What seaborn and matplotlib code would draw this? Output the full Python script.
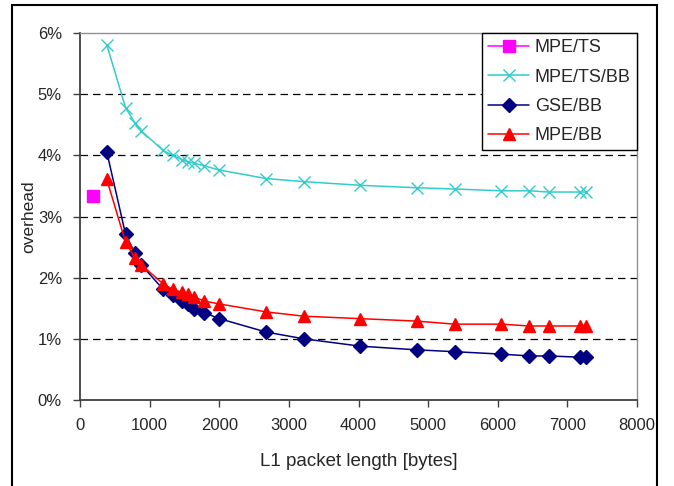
import matplotlib

matplotlib.use("Agg")

import matplotlib.pyplot as plt
import seaborn as sns
from matplotlib.patches import Rectangle
from matplotlib.ticker import FuncFormatter, MultipleLocator


# L1 packet lengths [bytes] (DVB-S2 short + normal frame payloads)
PACKET_LENGTH = [384, 654, 789, 879, 1194, 1329, 1464, 1554, 1644, 1779, 2001,
                 2676, 3216, 4026, 4836, 5380, 6051, 6456, 6730, 7184, 7274]

MPE_TS_X = [188]
MPE_TS = [3.34]
MPE_TS_BB = [5.81, 4.78, 4.53, 4.40, 4.08, 4.00, 3.93, 3.89, 3.87, 3.83, 3.76,
             3.62, 3.57, 3.51, 3.47, 3.45, 3.42, 3.42, 3.40, 3.40, 3.40]
GSE_BB = [4.06, 2.71, 2.40, 2.21, 1.81, 1.72, 1.62, 1.57, 1.49, 1.43, 1.33,
          1.11, 1.00, 0.88, 0.82, 0.79, 0.75, 0.72, 0.72, 0.70, 0.70]
MPE_BB = [3.61, 2.58, 2.32, 2.21, 1.90, 1.81, 1.76, 1.73, 1.68, 1.62, 1.57,
          1.44, 1.37, 1.33, 1.29, 1.24, 1.24, 1.21, 1.21, 1.21, 1.21]

SERIES = [
    ("MPE/TS", MPE_TS_X, MPE_TS, "#FF00FF", "s"),
    ("MPE/TS/BB", PACKET_LENGTH, MPE_TS_BB, "#33CCCC", "x"),
    ("GSE/BB", PACKET_LENGTH, GSE_BB, "#000080", "D"),
    ("MPE/BB", PACKET_LENGTH, MPE_BB, "#FF0000", "^"),
]


def main():
    sns.set_style("white")
    plt.rcParams["font.family"] = ["Liberation Sans", "DejaVu Sans"]

    fig = plt.figure(figsize=(6.74, 4.86), dpi=100)
    ax = fig.add_axes([80 / 674, 1 - 400 / 486, 557 / 674, 367 / 486])

    for name, xs, ys, color, marker in SERIES:
        size = 9 if marker == "x" else (7 if marker == "D" else 8)
        sns.lineplot(
            x=xs, y=ys, ax=ax, color=color, marker=marker, label=name,
            markersize=size, markeredgecolor=color, markerfacecolor=color,
            markeredgewidth=1.0, linewidth=1.1, estimator=None, sort=False,
        )

    ax.set_xlim(0, 8000)
    ax.set_ylim(0, 6)
    ax.xaxis.set_major_locator(MultipleLocator(1000))
    ax.yaxis.set_major_locator(MultipleLocator(1))
    ax.yaxis.set_major_formatter(FuncFormatter(lambda v, _: f"{v:.0f}%"))

    for level in range(1, 6):
        ax.axhline(level, color="black", linewidth=0.9, linestyle=(0, (6, 4)), zorder=0.5)

    for side in ("left", "bottom"):
        ax.spines[side].set_color("#404040")
        ax.spines[side].set_linewidth(1.3)
    for side in ("top", "right"):
        ax.spines[side].set_color("#909090")
        ax.spines[side].set_linewidth(1.0)

    ax.tick_params(axis="both", direction="out", length=5, width=1, color="#404040",
                   labelsize=12, pad=8, left=True, bottom=True)
    ax.set_xlabel("L1 packet length [bytes]", fontsize=13.5, labelpad=14)
    ax.set_ylabel("overhead", fontsize=12.5, labelpad=1)

    legend = ax.legend(
        loc="upper right", bbox_to_anchor=(1.0, 1.0), borderaxespad=0,
        fontsize=13, frameon=True, fancybox=False, edgecolor="black",
        handlelength=2.3, handletextpad=0.3, labelspacing=0.68,
        borderpad=0.35, framealpha=1,
    )
    legend.get_frame().set_linewidth(1.0)

    fig.patches.append(Rectangle(
        (12 / 674, -0.05), (657 - 12) / 674, 0.05 + 1 - 5 / 486,
        transform=fig.transFigure, fill=False, edgecolor="black", linewidth=1.5,
    ))

    fig.savefig("out.png", dpi=100)
    plt.close(fig)


if __name__ == "__main__":
    main()
